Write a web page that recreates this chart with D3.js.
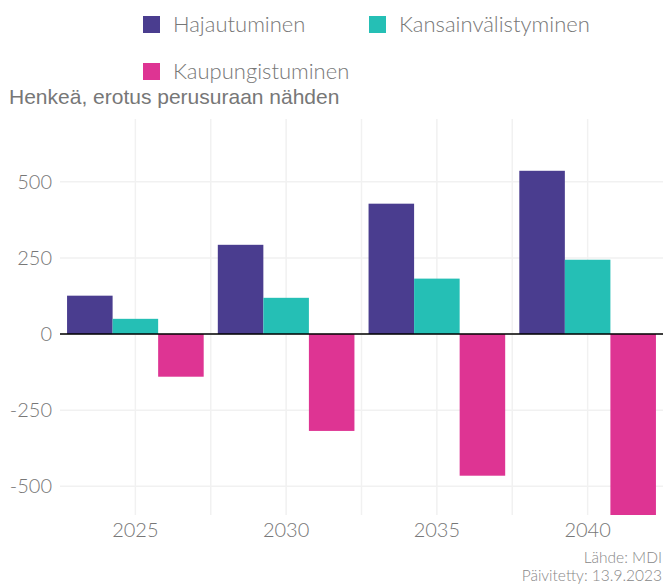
<!DOCTYPE html>
<html>
<head>
<meta charset="utf-8">
<script src="https://cdn.jsdelivr.net/npm/d3@7"></script>
<style>
  body { margin: 0; background: #fff; }
  svg { display: block; }
</style>
</head>
<body>
<div id="chart"></div>
<script>
const years = ["2025", "2030", "2035", "2040"];
const seriesNames = ["Hajautuminen", "Kansainvälistyminen", "Kaupungistuminen"];
const hajautuminen = [126, 293, 428, 536];
const kansainvalistyminen = [50, 119, 182, 244];
const kaupungistuminen = [-140, -318, -465, -594];
const colors = ["#4a3d8f", "#25bfb5", "#de3493"];
const yTicks = [-500, -250, 0, 250, 500];

const width = 663;
const height = 585;
const margin = { top: 119, right: 0, bottom: 70, left: 60 };

const svg = d3.select("#chart")
    .append("svg")
    .attr("width", width)
    .attr("height", height);

const values = [hajautuminen, kansainvalistyminen, kaupungistuminen];
const rows = years.map((y, i) => ({
    year: y,
    vals: seriesNames.map((s, j) => ({ key: s, value: values[j][i], idx: j }))
}));

const x = d3.scaleBand()
    .domain(years)
    .range([margin.left, width - margin.right])
    .paddingInner(0)
    .paddingOuter(0);

const xInner = d3.scaleBand()
    .domain(seriesNames)
    .range([0, x.bandwidth()])
    .paddingOuter(0.155)
    .paddingInner(0);

const y = d3.scaleLinear()
    .domain([-594, 706])
    .range([height - margin.bottom, margin.top]);

const fontLight = "Lato, 'Open Sans', sans-serif";

// grid
const grid = svg.append("g");
grid.selectAll(".hgrid")
    .data(yTicks)
    .enter()
    .append("line")
    .attr("x1", margin.left)
    .attr("x2", width - margin.right)
    .attr("y1", d => y(d))
    .attr("y2", d => y(d))
    .attr("stroke", "#f1f1f1")
    .attr("stroke-width", 1.5);

const vgrid = [];
years.forEach(yr => {
    vgrid.push(x(yr) + x.bandwidth() / 2);
    vgrid.push(x(yr) + x.bandwidth());
});
grid.selectAll(".vgrid")
    .data(vgrid.filter(v => v < width - 2))
    .enter()
    .append("line")
    .attr("x1", d => d)
    .attr("x2", d => d)
    .attr("y1", margin.top)
    .attr("y2", height - margin.bottom)
    .attr("stroke", "#f1f1f1")
    .attr("stroke-width", 1.5);

// bars
svg.append("g")
    .selectAll("g")
    .data(rows)
    .enter()
    .append("g")
    .attr("transform", d => `translate(${x(d.year)},0)`)
    .selectAll("rect")
    .data(d => d.vals)
    .enter()
    .append("rect")
    .attr("x", d => xInner(d.key))
    .attr("width", xInner.bandwidth())
    .attr("y", d => y(Math.max(0, d.value)))
    .attr("height", d => Math.abs(y(d.value) - y(0)))
    .attr("fill", d => colors[d.idx]);

// zero line
svg.append("line")
    .attr("x1", margin.left)
    .attr("x2", width - margin.right)
    .attr("y1", y(0))
    .attr("y2", y(0))
    .attr("stroke", "#000")
    .attr("stroke-width", 1.6);

// y axis labels
const yAxis = d3.axisLeft(y)
    .tickValues(yTicks)
    .tickFormat(d => String(d))
    .tickSize(0)
    .tickPadding(8);
const yg = svg.append("g")
    .attr("transform", `translate(${margin.left},0)`)
    .call(yAxis);
yg.select(".domain").remove();
yg.selectAll("text")
    .attr("font-family", fontLight)
    .attr("font-weight", 300)
    .attr("font-size", 20)
    .attr("fill", "#777");

// x axis labels
const xAxis = d3.axisBottom(x).tickSize(0).tickPadding(8);
const xg = svg.append("g")
    .attr("transform", `translate(0,${height - margin.bottom})`)
    .call(xAxis);
xg.select(".domain").remove();
xg.selectAll("text")
    .attr("font-family", fontLight)
    .attr("font-weight", 300)
    .attr("font-size", 20)
    .attr("fill", "#777");

// title
svg.append("text")
    .attr("x", 9)
    .attr("y", 104)
    .attr("font-family", "'Liberation Sans', Arial, sans-serif")
    .attr("font-size", 21)
    .attr("fill", "#777")
    .text("Henkeä, erotus perusuraan nähden");

// legend
const legendPos = [[143, 16], [369, 16], [143, 63]];
const legend = svg.append("g")
    .selectAll("g")
    .data(seriesNames)
    .enter()
    .append("g")
    .attr("transform", (d, i) => `translate(${legendPos[i][0]},${legendPos[i][1]})`);
legend.append("rect")
    .attr("width", 17)
    .attr("height", 17)
    .attr("fill", (d, i) => colors[i]);
legend.append("text")
    .attr("x", 30)
    .attr("y", 16)
    .attr("font-family", fontLight)
    .attr("font-weight", 300)
    .attr("font-size", 22)
    .attr("fill", "#777")
    .text(d => d);

// source
const src = svg.append("g")
    .attr("text-anchor", "end")
    .attr("font-family", fontLight)
    .attr("font-weight", 300)
    .attr("font-size", 15.5)
    .attr("fill", "#888");
src.append("text").attr("x", 662).attr("y", 563).text("Lähde: MDI");
src.append("text").attr("x", 662).attr("y", 581).text("Päivitetty: 13.9.2023");
</script>
</body>
</html>
